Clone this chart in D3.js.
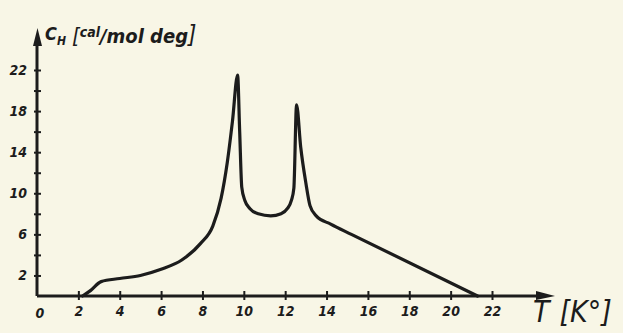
<!DOCTYPE html>
<html lang="en">
<head>
<meta charset="UTF-8">
<script src="https://d3js.org/d3.v7.min.js"></script>
<style>
  body { margin: 0; background: #f8f6e6; }
  svg { display: block; }
  .tick text { font-family: "DejaVu Sans Condensed", "DejaVu Sans", sans-serif; font-style: italic; font-weight: bold; font-size: 14px; fill: #1c1c1c; }
</style>
</head>
<body>
<div id="chart"></div>
<script>
// heat capacity curve
var temps = [2.2, 2.6, 3.1, 4, 5, 6, 7, 7.9, 8.5, 8.9, 9.2, 9.45, 9.7, 9.8, 9.9, 10.05, 10.3, 10.7, 11.3, 11.8, 12.1, 12.3, 12.42, 12.55, 12.75, 13.0, 13.2, 13.5, 14.2, 15.2, 21.3];
var heatCap = [0, 0.55, 1.4, 1.7, 2.0, 2.6, 3.5, 5.1, 6.8, 9.5, 13, 17, 21.5, 16, 10.6, 9.3, 8.5, 8.0, 7.8, 8.0, 8.5, 9.3, 10.5, 18.6, 14.5, 11, 8.8, 7.8, 7.0, 6.0, 0];
var xTicks = [2, 4, 6, 8, 10, 12, 14, 16, 18, 20, 22];
var yTicks = [2, 4, 6, 8, 10, 12, 14, 16, 18, 20, 22];
var yLabels = [2, 6, 10, 14, 18, 22];

var W = 623, H = 333;
var ink = "#1c1c1c";
var svg = d3.select("#chart").append("svg").attr("width", W).attr("height", H);

var x = d3.scaleLinear().domain([0, 22]).range([37, 492]);
var y = d3.scaleLinear().domain([0, 22]).range([296, 70]);

// x axis
var xAxis = svg.append("g")
    .attr("transform", "translate(0," + y(0) + ")")
    .call(d3.axisBottom(x).tickValues(xTicks).tickSize(0).tickPadding(10));
xAxis.select(".domain").remove();
xAxis.selectAll(".tick").append("line").attr("y1", -5).attr("y2", 4).attr("stroke", ink).attr("stroke-width", 2);
svg.append("text").attr("x", x(0) + 3).attr("y", y(0) + 22)
    .attr("text-anchor", "middle")
    .style("font-family", "DejaVu Sans Condensed, DejaVu Sans, sans-serif")
    .style("font-style", "italic").style("font-weight", "bold").style("font-size", "14px")
    .attr("fill", ink).text("0");
svg.append("line").attr("x1", x(0)).attr("x2", 540).attr("y1", y(0)).attr("y2", y(0))
    .attr("stroke", ink).attr("stroke-width", 3);
svg.append("path").attr("d", "M536,291 L555,296 L536,300 Z").attr("fill", ink);

// y axis
var yAxis = svg.append("g")
    .attr("transform", "translate(" + x(0) + ",0)")
    .call(d3.axisLeft(y).tickValues(yTicks).tickSize(0).tickPadding(10)
        .tickFormat(function (d) { return yLabels.indexOf(d) >= 0 ? d : ""; }));
yAxis.select(".domain").remove();
yAxis.selectAll(".tick").append("line").attr("x1", -3).attr("x2", 4).attr("stroke", ink).attr("stroke-width", 2);
svg.append("line").attr("x1", x(0)).attr("x2", x(0)).attr("y1", y(0)).attr("y2", 40)
    .attr("stroke", ink).attr("stroke-width", 3);
svg.append("path").attr("d", "M33,46 L37.5,28 L42,46 Z").attr("fill", ink);

// axis titles
var lab = svg.append("text").attr("x", 45).attr("y", 44)
    .style("font-family", "DejaVu Sans Condensed, DejaVu Sans, sans-serif")
    .style("font-style", "italic").style("font-weight", "bold").attr("fill", ink);
lab.append("tspan").style("font-size", "18px").attr("dy", -4).text("C");
lab.append("tspan").style("font-size", "12px").attr("dy", 5).text("H");
lab.append("tspan").style("font-size", "22px").attr("dx", 6).attr("dy", -2).style("font-weight", "normal").text("[");
lab.append("tspan").style("font-size", "14px").attr("dy", -6).text("cal");
lab.append("tspan").style("font-size", "20px").attr("dy", 6).text("/mol deg");
lab.append("tspan").style("font-size", "24px").style("font-weight", "normal").text("]");

var tl = svg.append("text").attr("x", 533).attr("y", 322)
    .style("font-family", "DejaVu Sans Condensed, DejaVu Sans, sans-serif")
    .style("font-style", "italic").style("font-size", "30px").attr("fill", ink);
tl.append("tspan").text("T");
tl.append("tspan").attr("dx", 10).text("[K°]");

// curve
var pts = temps.map(function (t, i) { return [t, heatCap[i]]; });
var line = d3.line().x(function (d) { return x(d[0]); }).y(function (d) { return y(d[1]); })
    .curve(d3.curveMonotoneX);
svg.append("path").datum(pts).attr("d", line)
    .attr("fill", "none").attr("stroke", ink).attr("stroke-width", 3.2)
    .attr("stroke-linejoin", "round").attr("stroke-linecap", "round");
</script>
</body>
</html>
